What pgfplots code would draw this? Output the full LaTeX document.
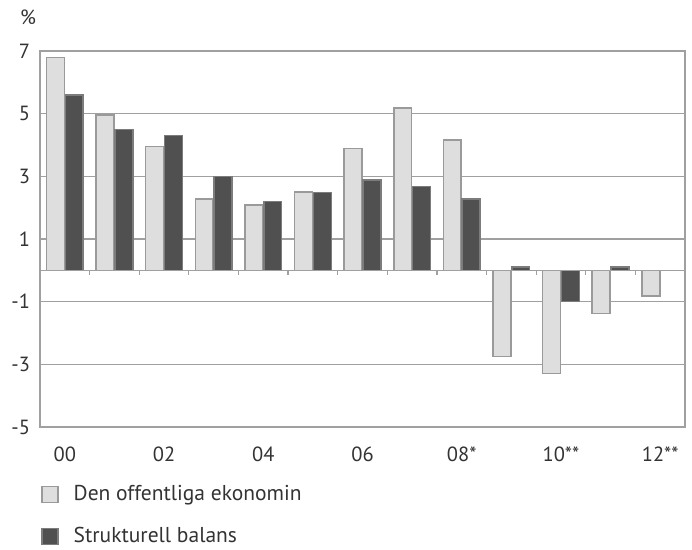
\documentclass[border=0pt]{standalone}
\usepackage{pgfplots}
\pgfplotsset{compat=1.18}
\usepackage{fontspec}
\setmainfont{PT Sans}

\definecolor{lightbar}{HTML}{DEDEDE}
\definecolor{lightedge}{HTML}{9A9A9A}
\definecolor{darkbar}{HTML}{505050}
\definecolor{darkedge}{HTML}{7C7C7C}
\definecolor{gridc}{HTML}{A0A0A0}
\definecolor{txt}{HTML}{333333}

% Den offentliga ekonomin / Strukturell balans, 2000-2012
\pgfplotstableread{
x  off    str
0  6.8    5.6
1  4.95   4.5
2  3.95   4.3
3  2.27   3.0
4  2.09   2.2
5  2.5    2.48
6  3.89   2.88
7  5.18   2.68
8  4.16   2.28
9  -2.75  0.1
10 -3.3   -1.0
11 -1.38  0.1
}\balans
\pgfplotstableread{
x  off
12 -0.82
}\lastyear

\begin{document}
\fontsize{20.5pt}{24pt}\selectfont
\begin{tikzpicture}
\begin{axis}[
    name=ax,
    width=645pt, height=376pt, scale only axis,
    ybar=1pt, bar width=0.36,
    xmin=-0.5, xmax=12.5, ymin=-5, ymax=7,
    xtick={0,2,...,12}, xticklabels={00,02,04,06,08*,10**,12**},
    ytick={-5,-3,...,7}, yticklabels={-5,-3,-1,1,3,5,7},
    major tick length=0pt,
    ymajorgrids, grid style={gridc, line width=1.5pt},
    axis line style={gridc, line width=1.5pt},
    tick label style={txt, font=\fontsize{20.5pt}{24pt}\selectfont},
    yticklabel style={xshift=-3pt},
    xticklabel style={yshift=-13pt},
    legend style={at={(0,0)}, anchor=north west, xshift=1pt, yshift=-56pt,
        draw=none, fill=none, inner sep=0pt, row sep=20pt,
        font=\fontsize{21.5pt}{25pt}\selectfont, text=txt,
        nodes={inner sep=2pt}},
    legend cell align=left,
    legend image code/.code={%
        \draw[#1, line width=1.5pt] (0pt,-8pt) rectangle (16pt,8pt);
        \path (29pt,0pt);},
]
\addplot[fill=lightbar, draw=lightedge, line width=1.5pt] table[x=x, y=off] {\balans};
\addplot[fill=darkbar, draw=darkedge, line width=1.5pt] table[x=x, y=str] {\balans};
\addplot[fill=lightbar, draw=lightedge, line width=1.5pt, bar shift=-0.185, forget plot] table[x=x, y=off] {\lastyear};
\legend{Den offentliga ekonomin, Strukturell balans}
\draw[gridc, line width=1.5pt] (axis cs:-0.5,0) -- (axis cs:12.5,0);
\pgfplotsinvokeforeach{0.5,1.5,...,11.5}{
    \draw[gridc, line width=1.2pt] (axis cs:#1,0) -- ++(0pt,-5pt);
}
\end{axis}
\node[txt, anchor=base west] at ([xshift=-27pt, yshift=26pt]ax.north west) {\%};
\pgfresetboundingbox
\path (ax.south west) ++(-40pt,-122pt) rectangle ++(692pt,549pt);
\end{tikzpicture}
\end{document}
